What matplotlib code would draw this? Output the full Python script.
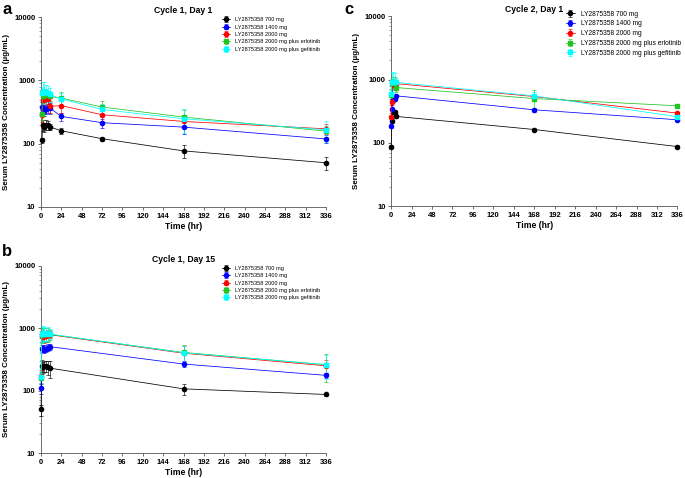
import matplotlib
matplotlib.use("Agg")
import matplotlib.pyplot as plt
from matplotlib.ticker import FixedLocator, LogLocator, NullFormatter

plt.rcParams['font.family'] = ['Liberation Sans', 'DejaVu Sans']

# Series names and colours
labels = ["LY2875358 700 mg", "LY2875358 1400 mg", "LY2875358 2000 mg",
          "LY2875358 2000 mg plus erlotinib", "LY2875358 2000 mg plus gefitinib"]
colors = ["#000000", "#0000ff", "#ff0000", "#22c422", "#00ffff"]
markers = ["o", "o", "o", "s", "s"]

# Cycle 1, Day 1
times_a = [1, 2, 4, 6, 8, 10, 24, 72, 168, 336]
conc_a = [
    [113, 200, 185, 200, 195, 185, 160, 120, 77, 50],
    [380, 340, 330, 350, 365, 370, 270, 215, 183, 119],
    [280, 495, 500, 520, 510, 390, 400, 287, 225, 172],
    [300, 560, 600, 620, 580, 560, 526, 380, 264, 158],
    [640, 660, 680, 650, 640, 600, 510, 348, 248, 166],
]
sd_a = [
    [12, 40, 30, 35, 30, 20, 18, 10, 18, 11],
    [80, 70, 60, 60, 60, 70, 40, 35, 40, 18],
    [60, 100, 100, 90, 90, 80, 90, 60, 50, 30],
    [60, 120, 120, 110, 100, 100, 130, 90, 80, 30],
    [150, 280, 250, 200, 180, 150, 120, 80, 100, 60],
]

# Cycle 1, Day 15
times_b = [0, 1, 2, 4, 6, 8, 10, 168, 336]
conc_b = [
    [50, 245, 240, 250, 248, 237, 230, 107, 87],
    [110, 472, 480, 455, 470, 490, 508, 267, 176],
    [174, 760, 720, 740, 760, 780, 790, 398, 250],
    [158, 780, 800, 820, 800, 810, 796, 410, 260],
    [165, 820, 850, 830, 820, 830, 810, 405, 262],
]
sd_b = [
    [10, 60, 50, 50, 50, 60, 70, 22, 5],
    [20, 60, 60, 50, 60, 60, 60, 30, 15],
    [40, 150, 150, 150, 150, 150, 100, 130, 60],
    [30, 200, 200, 200, 200, 200, 150, 130, 120],
    [30, 250, 250, 200, 200, 200, 150, 120, 110],
]

# Cycle 2, Day 1
times_c = [0, 1, 2, 4, 6, 168, 336]
conc_c = [
    [87, 223, 309, 309, 261, 162, 87],
    [182, 340, 471, 490, 552, 332, 231],
    [258, 434, 820, 870, 860, 538, 294],
    [560, 870, 900, 900, 746, 500, 384],
    [600, 900, 920, 930, 900, 550, 258],
]
sd_c = [
    [5, 15, 20, 20, 15, 8, 5],
    [10, 20, 25, 25, 25, 20, 12],
    [20, 40, 60, 60, 60, 50, 15],
    [60, 150, 200, 200, 100, 180, 20],
    [80, 350, 400, 350, 150, 80, 20],
]

xticks = [0, 24, 48, 72, 96, 120, 144, 168, 192, 216, 240, 264, 288, 312, 336]
yticks = [10, 100, 1000, 10000]


def draw_panel(ax, times, conc, sd, title, legend_size, legend_anchor, spacing):
    for vals, err, lab, col, mk in zip(conc, sd, labels, colors, markers):
        ax.errorbar(times, vals, yerr=err, color=col, marker=mk, markersize=3.0,
                    linewidth=0.55, elinewidth=0.45, capsize=1.3, capthick=0.45,
                    label=lab, clip_on=False, zorder=3)
    ax.set_yscale("log")
    ax.set_ylim(10, 10000)
    ax.set_xlim(0, 336)
    ax.xaxis.set_major_locator(FixedLocator(xticks))
    ax.yaxis.set_major_locator(FixedLocator(yticks))
    ax.set_yticklabels([str(v) for v in yticks])
    ax.yaxis.set_minor_locator(LogLocator(base=10, subs=range(2, 10)))
    ax.yaxis.set_minor_formatter(NullFormatter())
    for s in ["top", "right"]:
        ax.spines[s].set_visible(False)
    for s in ["left", "bottom"]:
        ax.spines[s].set_linewidth(0.6)
        ax.spines[s].set_color("#555555")
    ax.tick_params(axis="both", which="major", labelsize=5.5, length=2.5,
                   width=0.6, pad=1.5, color="#555555")
    ax.tick_params(axis="y", which="minor", length=1.5, width=0.4, color="#555555")
    for t in ax.get_xticklabels() + ax.get_yticklabels():
        t.set_fontweight("bold")
    ax.set_title(title, fontsize=6.2, fontweight="bold", pad=3)
    ax.set_xlabel("Time (hr)", fontsize=6.2, fontweight="bold", labelpad=2)
    ax.set_ylabel("Serum LY2875358 Concentration (\u00b5g/mL)", fontsize=5.8,
                  fontweight="bold", labelpad=3)
    ax.legend(loc="upper left", bbox_to_anchor=legend_anchor, frameon=False,
              fontsize=legend_size, handlelength=1.4, handletextpad=0.9,
              labelspacing=spacing, borderaxespad=0, borderpad=0)


fig = plt.figure(figsize=(6.85, 4.78), dpi=100)
ax_a = fig.add_axes([0.0599, 0.567, 0.416, 0.397])
ax_b = fig.add_axes([0.0599, 0.052, 0.416, 0.392])
ax_c = fig.add_axes([0.571, 0.569, 0.418, 0.397])

draw_panel(ax_a, times_a, conc_a, sd_a, "Cycle 1, Day 1", 4.1, (0.635, 1.0), 0.42)
draw_panel(ax_b, times_b, conc_b, sd_b, "Cycle 1, Day 15", 4.1, (0.635, 1.0), 0.42)
draw_panel(ax_c, times_c, conc_c, sd_c, "Cycle 2, Day 1", 4.8, (0.61, 1.03), 0.42)

fig.text(0.003, 0.995, "a", fontsize=12, fontweight="bold", va="top")
fig.text(0.003, 0.49, "b", fontsize=12, fontweight="bold", va="top")
fig.text(0.503, 0.995, "c", fontsize=12, fontweight="bold", va="top")

fig.savefig("out.png", dpi=100)
